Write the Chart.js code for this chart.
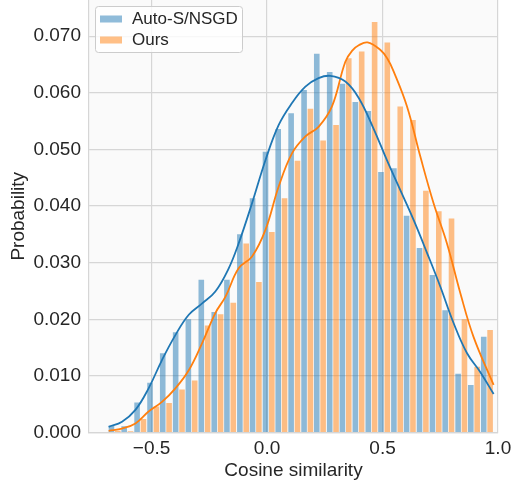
<!DOCTYPE html>
<html>
<head>
<meta charset="utf-8">
<script src="https://cdn.jsdelivr.net/npm/chart.js@4.4.1/dist/chart.umd.min.js"></script>
<style>
  html, body { margin: 0; padding: 0; background: #ffffff; }
  #wrap { width: 512px; height: 487px; }
</style>
</head>
<body>
<div id="wrap"><canvas id="hist-chart" width="512" height="487"></canvas></div>
<script>
// bin centres of the histogram (Cosine similarity)
let binCenters = [-0.660, -0.605, -0.549, -0.493, -0.438, -0.382, -0.327, -0.271, -0.215, -0.160,
                  -0.104, -0.049, 0.007, 0.062, 0.118, 0.174, 0.229, 0.285, 0.340, 0.396,
                  0.452, 0.507, 0.563, 0.618, 0.674, 0.730, 0.785, 0.841, 0.896, 0.952];

let autoProb = [0.0012, 0.0011, 0.0053, 0.0088, 0.0140, 0.0177, 0.0200, 0.0270, 0.0213, 0.0270,
                0.0350, 0.0414, 0.0496, 0.0536, 0.0564, 0.0605, 0.0669, 0.0637, 0.0616, 0.0584,
                0.0568, 0.0460, 0.0467, 0.0383, 0.0326, 0.0278, 0.0216, 0.0104, 0.0084, 0.0169];

let oursProb = [0.0003, 0.0002, 0.0024, 0.0046, 0.0052, 0.0076, 0.0092, 0.0189, 0.0209, 0.0229,
                0.0334, 0.0266, 0.0354, 0.0414, 0.0480, 0.0572, 0.0516, 0.0543, 0.0661, 0.0673,
                0.0725, 0.0689, 0.0576, 0.0552, 0.0427, 0.0391, 0.0378, 0.0200, 0.0116, 0.0181];

// KDE curves
let autoKdeX = [-0.686, -0.628, -0.570, -0.513, -0.455, -0.397, -0.339, -0.281, -0.224, -0.166,
                -0.123, -0.065, -0.007, 0.050, 0.108, 0.166, 0.223, 0.274, 0.339, 0.397,
                0.461, 0.519, 0.577, 0.635, 0.693, 0.750, 0.808, 0.866, 0.923, 0.981];
let autoKdeY = [0.0010, 0.0019, 0.0040, 0.0078, 0.0128, 0.0172, 0.0208, 0.0228, 0.0249, 0.0290,
                0.0334, 0.0405, 0.0481, 0.0543, 0.0582, 0.0611, 0.0626, 0.0630, 0.0620, 0.0591,
                0.0537, 0.0481, 0.0428, 0.0375, 0.0317, 0.0258, 0.0193, 0.0140, 0.0107, 0.0068];

let oursKdeX = [-0.686, -0.628, -0.570, -0.513, -0.455, -0.397, -0.339, -0.281, -0.224, -0.180,
                -0.123, -0.065, -0.007, 0.050, 0.108, 0.166, 0.223, 0.281, 0.339, 0.370,
                0.397, 0.435, 0.490, 0.520, 0.548, 0.606, 0.664, 0.721, 0.779, 0.837,
                0.894, 0.981];
let oursKdeY = [0.0003, 0.0007, 0.0016, 0.0037, 0.0054, 0.0078, 0.0110, 0.0158, 0.0211, 0.0240,
                0.0290, 0.0311, 0.0358, 0.0434, 0.0493, 0.0523, 0.0540, 0.0576, 0.0655, 0.0675,
                0.0684, 0.0689, 0.0676, 0.0661, 0.0638, 0.0576, 0.0487, 0.0405, 0.0334, 0.0246,
                0.0169, 0.0084];

let seriesNames = ['Auto-S/NSGD', 'Ours'];
let xTicks = [-0.5, 0.0, 0.5, 1.0];
let yTicks = [0.000, 0.010, 0.020, 0.030, 0.040, 0.050, 0.060, 0.070];

let FONT = "'Liberation Sans', Arial, 'DejaVu Sans', sans-serif";
let TEXT = '#262626';
let GRID = '#d6d6d6';

function points(xs, ys) {
    return xs.map(function (x, i) { return { x: x, y: ys[i] }; });
}

// white page + light plot background
let backgroundPlugin = {
    id: 'background',
    beforeDraw: function (chart) {
        let c = chart.ctx, a = chart.chartArea;
        c.save();
        c.fillStyle = '#ffffff';
        c.fillRect(0, 0, chart.width, chart.height);
        c.fillStyle = '#fafafa';
        c.fillRect(a.left, a.top, a.right - a.left, a.bottom - a.top);
        c.restore();
    }
};

// matplotlib-like legend box inside the axes, top left
let boxLegendPlugin = {
    id: 'boxLegend',
    afterDraw: function (chart) {
        let c = chart.ctx, a = chart.chartArea;
        let items = chart.data.datasets.filter(function (d) { return d.type !== 'line'; });
        let x0 = a.left + 6, y0 = a.top + 6, w = 147, h = 46;
        c.save();
        c.beginPath();
        c.roundRect(x0 + 0.5, y0 + 0.5, w, h, 3);
        c.fillStyle = 'rgba(255,255,255,0.8)';
        c.fill();
        c.strokeStyle = '#cccccc';
        c.lineWidth = 1;
        c.stroke();
        c.font = '17px ' + FONT;
        c.fillStyle = TEXT;
        c.textBaseline = 'alphabetic';
        items.forEach(function (d, i) {
            let rowY = y0 + 13 + i * 21;
            c.fillStyle = d.backgroundColor;
            c.fillRect(x0 + 5, rowY - 3.5, 22, 7);
            c.fillStyle = TEXT;
            c.fillText(d.label, x0 + 37, rowY + 4.5);
        });
        c.restore();
    }
};

let ctx = document.querySelector('#hist-chart').getContext('2d');

let myChart = new Chart(ctx, {
    type: 'bar',
    data: {
        datasets: [
            {
                type: 'line',
                label: seriesNames[0] + ' kde',
                data: points(autoKdeX, autoKdeY),
                borderColor: '#1f77b4',
                borderWidth: 1.8,
                pointRadius: 0,
                tension: 0.4,
                fill: false,
                order: 0
            },
            {
                type: 'line',
                label: seriesNames[1] + ' kde',
                data: points(oursKdeX, oursKdeY),
                borderColor: '#ff7f0e',
                borderWidth: 1.8,
                pointRadius: 0,
                tension: 0.4,
                fill: false,
                order: 0
            },
            {
                label: seriesNames[0],
                data: points(binCenters, autoProb),
                backgroundColor: 'rgba(31,119,180,0.5)',
                borderWidth: 0,
                categoryPercentage: 1.0,
                barPercentage: 0.88,
                order: 1
            },
            {
                label: seriesNames[1],
                data: points(binCenters, oursProb),
                backgroundColor: 'rgba(255,127,14,0.5)',
                borderWidth: 0,
                categoryPercentage: 1.0,
                barPercentage: 0.88,
                order: 1
            }
        ]
    },
    options: {
        responsive: false,
        animation: false,
        events: [],
        layout: { padding: { left: 0, right: 14, top: 0, bottom: 0 } },
        plugins: {
            legend: { display: false },
            tooltip: { enabled: false }
        },
        scales: {
            x: {
                type: 'linear',
                min: -0.771,
                max: 1.0,
                offset: false,
                grid: { color: GRID, lineWidth: 1.2, drawTicks: false, offset: false },
                border: { color: GRID, width: 1.2 },
                afterBuildTicks: function (scale) {
                    scale.ticks = xTicks.map(function (v) { return { value: v }; });
                },
                afterFit: function (scale) {
                    scale.height = 54.5;
                    scale.paddingLeft = 0;
                    scale.paddingRight = 0;
                },
                ticks: {
                    padding: 5,
                    color: TEXT,
                    font: { family: FONT, size: 19 },
                    maxRotation: 0,
                    callback: function (v) { return (v < 0 ? '\u2212' : '') + Math.abs(v).toFixed(1); }
                },
                title: {
                    display: true,
                    text: 'Cosine similarity',
                    color: TEXT,
                    font: { family: FONT, size: 19 },
                    padding: { top: 0, bottom: 5 }
                }
            },
            y: {
                type: 'linear',
                min: 0,
                max: 0.0764,
                grid: { color: GRID, lineWidth: 1.2, drawTicks: false },
                border: { color: GRID, width: 1.2 },
                afterBuildTicks: function (scale) {
                    scale.ticks = yTicks.map(function (v) { return { value: v }; });
                },
                afterFit: function (scale) {
                    scale.width = 89;
                    scale.paddingTop = 0;
                    scale.paddingBottom = 0;
                },
                ticks: {
                    padding: 8,
                    color: TEXT,
                    font: { family: FONT, size: 19 },
                    callback: function (v) { return v.toFixed(3); }
                },
                title: {
                    display: true,
                    text: 'Probability',
                    color: TEXT,
                    font: { family: FONT, size: 19 },
                    padding: { top: 7, bottom: 0 }
                }
            }
        }
    },
    plugins: [backgroundPlugin, boxLegendPlugin]
});
</script>
</body>
</html>
